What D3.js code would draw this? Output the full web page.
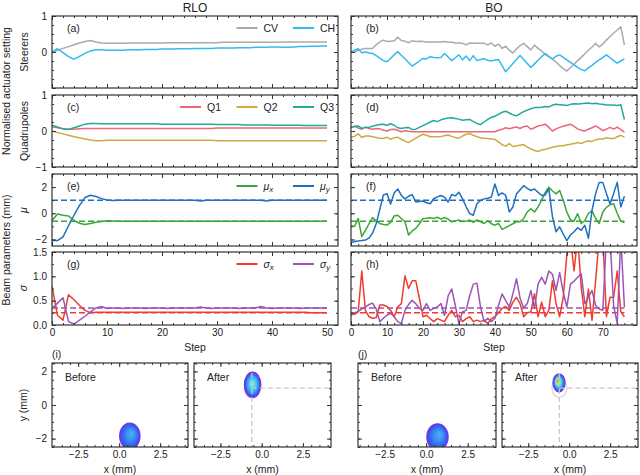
<!DOCTYPE html>
<html>
<head>
<meta charset="utf-8">
<script src="https://cdn.jsdelivr.net/npm/d3@7"></script>
<style>
body { margin: 0; background: #fff; }
svg { font-family: "Liberation Sans", Arial, sans-serif; }
.axis path { display: none; }
.axis line { stroke: #333; }
.axis text { font-size: 10px; fill: #222; font-family: "Liberation Sans", Arial, sans-serif; }
</style>
</head>
<body>
<div class="canvas"></div>
<script>
// ---- RLO data (steps 0..50)
const rloCV = [0.00,0.05,0.10,0.15,0.20,0.25,0.29,0.32,0.28,0.25,
  0.24,0.24,0.24,0.24,0.25,0.25,0.25,0.25,0.25,0.25,
  0.25,0.26,0.26,0.26,0.26,0.26,0.26,0.26,0.26,0.26,
  0.26,0.27,0.27,0.27,0.27,0.27,0.27,0.27,0.27,0.27,
  0.27,0.27,0.28,0.28,0.28,0.28,0.28,0.28,0.28,0.28,0.28]
const rloCH = [0.00,0.09,-0.02,-0.13,-0.20,-0.12,-0.04,0.03,0.06,0.06,
  0.05,0.05,0.05,0.05,0.06,0.06,0.06,0.07,0.07,0.07,
  0.08,0.08,0.08,0.09,0.09,0.09,0.10,0.10,0.10,0.10,
  0.11,0.11,0.11,0.11,0.12,0.12,0.12,0.13,0.13,0.13,
  0.14,0.14,0.13,0.13,0.14,0.15,0.15,0.16,0.16,0.17,0.17]
const rloQ1 = [0.12,0.09,0.06,0.05,0.05,0.06,0.07,0.07,0.07,0.07,
  0.07,0.07,0.07,0.07,0.07,0.07,0.07,0.07,0.07,0.07,
  0.07,0.07,0.07,0.07,0.07,0.07,0.07,0.07,0.07,0.07,
  0.08,0.08,0.08,0.08,0.08,0.08,0.08,0.08,0.08,0.08,
  0.08,0.08,0.08,0.08,0.08,0.08,0.08,0.08,0.08,0.08,0.08]
const rloQ2 = [0.00,-0.04,-0.08,-0.12,-0.16,-0.19,-0.22,-0.25,-0.27,-0.27,
  -0.26,-0.26,-0.26,-0.26,-0.26,-0.26,-0.26,-0.26,-0.26,-0.26,
  -0.26,-0.26,-0.26,-0.26,-0.26,-0.26,-0.26,-0.26,-0.26,-0.26,
  -0.27,-0.27,-0.27,-0.27,-0.27,-0.27,-0.27,-0.27,-0.27,-0.27,
  -0.27,-0.27,-0.27,-0.27,-0.27,-0.27,-0.27,-0.27,-0.27,-0.27,-0.27]
const rloQ3 = [0.16,0.11,0.06,0.04,0.09,0.14,0.19,0.21,0.21,0.20,
  0.20,0.20,0.20,0.20,0.20,0.20,0.20,0.20,0.20,0.20,
  0.19,0.19,0.19,0.19,0.19,0.19,0.19,0.19,0.19,0.19,
  0.18,0.18,0.18,0.18,0.18,0.17,0.17,0.17,0.17,0.17,
  0.16,0.16,0.16,0.16,0.16,0.16,0.15,0.15,0.15,0.15,0.15]
const rloMuX = [-0.55,-0.05,-0.15,-0.20,-0.55,-0.76,-0.86,-0.78,-0.68,-0.62,
  -0.58,-0.59,-0.60,-0.60,-0.60,-0.61,-0.60,-0.60,-0.60,-0.60,
  -0.60,-0.60,-0.61,-0.60,-0.60,-0.60,-0.60,-0.61,-0.60,-0.60,
  -0.60,-0.60,-0.60,-0.60,-0.61,-0.60,-0.60,-0.60,-0.60,-0.60,
  -0.60,-0.60,-0.61,-0.60,-0.60,-0.60,-0.60,-0.60,-0.61,-0.61,-0.61]
const rloMuY = [-2.08,-2.08,-1.80,-0.95,-0.15,0.60,1.20,1.38,1.28,1.12,
  1.02,0.98,1.00,1.00,1.00,1.00,1.00,1.00,1.00,1.00,
  1.00,1.00,1.00,1.00,1.00,1.00,1.00,0.93,1.00,1.00,
  1.00,1.00,1.00,1.00,1.00,1.00,1.00,1.00,1.00,0.93,
  1.00,1.00,1.00,1.00,1.00,1.00,1.00,1.00,1.00,1.00,1.00]
const rloSigX = [0.80,0.20,0.10,0.62,0.52,0.40,0.30,0.25,0.26,0.26,
  0.26,0.26,0.26,0.26,0.26,0.26,0.26,0.26,0.26,0.26,
  0.26,0.26,0.26,0.26,0.26,0.26,0.26,0.26,0.26,0.26,
  0.26,0.26,0.26,0.26,0.26,0.26,0.26,0.26,0.26,0.26,
  0.26,0.26,0.26,0.26,0.26,0.26,0.26,0.25,0.25,0.25,0.25]
const rloSigY = [0.34,0.45,0.56,0.07,0.02,0.10,0.18,0.27,0.35,0.38,
  0.34,0.35,0.35,0.34,0.35,0.35,0.35,0.34,0.35,0.35,
  0.35,0.34,0.35,0.35,0.35,0.35,0.35,0.37,0.35,0.34,
  0.35,0.35,0.35,0.35,0.34,0.35,0.35,0.35,0.38,0.35,
  0.34,0.35,0.35,0.35,0.35,0.34,0.35,0.35,0.35,0.35,0.35]

// ---- BO data (steps 0..76)
const boCV = [0.00,0.00,0.04,0.08,0.10,0.10,0.10,0.20,0.28,0.33,
  0.29,0.30,0.31,0.41,0.32,0.30,0.26,0.31,0.29,0.30,
  0.29,0.28,0.28,0.28,0.28,0.28,0.29,0.27,0.27,0.25,
  0.25,0.24,0.20,0.25,0.24,0.24,0.24,0.24,0.20,0.25,
  0.16,0.22,0.10,0.16,0.05,-0.03,0.08,0.18,0.24,0.15,
  0.06,0.19,0.10,0.03,-0.07,-0.13,-0.20,-0.28,-0.38,-0.46,
  -0.53,-0.43,-0.34,-0.24,-0.15,-0.05,0.05,0.14,0.24,0.14,
  0.22,0.33,0.43,0.52,0.61,0.70,0.20]
const boCH = [0.00,0.05,0.09,-0.02,0.00,-0.03,-0.04,-0.10,-0.17,-0.24,
  -0.27,-0.18,-0.08,0.01,-0.09,-0.19,-0.29,-0.39,-0.32,-0.25,
  -0.18,-0.19,-0.13,-0.15,-0.16,-0.15,-0.04,-0.14,-0.24,-0.16,
  -0.08,-0.22,-0.11,-0.24,-0.10,-0.24,-0.21,-0.19,-0.23,-0.25,
  -0.22,-0.21,-0.38,-0.55,-0.44,-0.32,-0.21,-0.10,-0.21,-0.32,
  -0.43,-0.33,-0.23,-0.13,-0.04,-0.13,-0.19,-0.12,-0.08,-0.15,
  -0.22,-0.29,-0.36,-0.43,-0.49,-0.52,-0.44,-0.37,-0.29,-0.22,
  -0.15,-0.08,-0.16,-0.24,-0.31,-0.25,-0.19]
const boQ1 = [0.09,0.14,0.08,0.05,0.11,0.07,0.05,0.07,0.06,0.02,
  0.00,0.04,0.05,0.02,-0.02,0.01,-0.01,-0.02,-0.02,-0.02,
  -0.02,-0.02,-0.02,-0.02,-0.02,-0.02,-0.02,-0.02,-0.02,-0.02,
  -0.02,-0.02,-0.02,-0.02,-0.02,-0.02,-0.02,-0.02,-0.02,-0.02,
  -0.02,0.02,0.05,0.09,0.06,0.09,0.11,0.07,0.12,0.14,
  0.05,0.09,0.14,0.16,0.19,0.10,0.00,0.06,0.10,0.13,
  0.16,0.19,0.13,0.06,0.02,0.00,0.05,0.09,0.14,0.08,
  0.01,0.05,0.10,0.05,0.11,0.04,-0.03]
const boQ2 = [-0.17,-0.15,-0.08,-0.18,-0.14,-0.14,-0.16,-0.18,-0.20,-0.21,
  -0.17,-0.23,-0.19,-0.17,-0.23,-0.28,-0.32,-0.26,-0.20,-0.14,
  -0.09,-0.12,-0.16,-0.16,-0.16,-0.15,-0.13,-0.11,-0.15,-0.18,
  -0.20,-0.14,-0.09,-0.07,-0.12,-0.16,-0.19,-0.20,-0.21,-0.22,
  -0.23,-0.30,-0.38,-0.42,-0.35,-0.43,-0.42,-0.39,-0.38,-0.45,
  -0.50,-0.54,-0.57,-0.53,-0.51,-0.48,-0.45,-0.43,-0.41,-0.41,
  -0.38,-0.37,-0.35,-0.32,-0.35,-0.30,-0.28,-0.29,-0.24,-0.22,
  -0.22,-0.19,-0.21,-0.21,-0.16,-0.12,-0.17]
const boQ3 = [0.12,0.12,0.14,0.07,0.10,0.10,0.13,0.16,0.18,0.19,
  0.16,0.20,0.16,0.09,0.07,0.09,0.10,0.04,0.05,0.10,
  0.15,0.20,0.25,0.29,0.26,0.31,0.34,0.36,0.37,0.35,
  0.33,0.30,0.31,0.32,0.26,0.21,0.18,0.25,0.32,0.38,
  0.41,0.46,0.52,0.55,0.50,0.45,0.42,0.48,0.54,0.58,
  0.62,0.65,0.65,0.66,0.68,0.67,0.72,0.74,0.73,0.72,
  0.71,0.74,0.76,0.75,0.76,0.77,0.78,0.76,0.77,0.75,
  0.74,0.72,0.72,0.72,0.71,0.73,0.32]
const boMuX = [-0.98,-1.00,-0.40,-1.79,-1.30,-0.80,-0.33,-0.60,-0.78,-0.85,
  -0.90,-0.70,-0.20,-0.15,-0.40,-0.65,-1.66,-1.35,-1.16,-0.80,
  -0.40,-0.38,-0.35,-0.40,-0.30,-0.45,-0.32,-0.45,-0.65,-0.58,
  -0.52,-0.62,-0.60,-0.52,-0.70,-0.50,-0.65,-0.78,-0.58,-0.80,
  -0.91,-0.78,-1.23,-1.10,-0.95,-0.80,-0.65,-0.65,-0.40,0.10,
  0.35,0.10,0.48,1.00,1.60,1.99,1.70,1.48,1.74,1.00,
  0.10,-0.50,-0.60,-0.03,-0.78,-0.55,0.00,0.18,-0.40,-0.78,
  0.10,0.45,0.65,0.73,0.00,-0.60,-0.70]
const boMuY = [-2.24,-2.15,-2.11,-2.08,-2.05,-1.90,-1.50,-0.80,0.30,1.40,
  1.50,0.70,1.55,1.86,1.36,1.10,1.30,1.43,0.86,0.90,
  0.93,0.80,0.73,1.11,1.25,1.36,1.23,0.86,1.43,1.33,
  1.61,1.10,0.50,-0.03,-0.15,0.73,0.98,1.10,1.15,1.23,
  2.24,1.36,1.55,1.36,0.10,0.48,1.48,1.80,2.11,1.90,
  1.74,1.86,1.60,1.36,1.40,1.86,-0.28,-1.41,-1.03,-1.60,
  -2.09,-1.66,-1.41,-1.10,-1.30,-0.91,-1.91,0.23,1.50,2.36,
  2.36,1.50,0.73,1.50,2.36,0.48,1.31]
const boSigX = [0.25,0.22,0.27,1.11,0.30,0.17,0.14,0.15,0.41,0.41,
  0.38,0.30,0.17,0.37,0.44,1.01,0.75,0.91,0.91,0.55,
  0.17,0.20,0.13,0.07,0.13,0.10,0.07,0.20,0.30,0.17,
  0.20,0.07,0.13,0.17,0.07,0.10,0.07,0.10,0.03,0.13,
  0.17,0.25,0.34,0.38,0.30,0.47,0.57,0.44,0.17,0.25,
  0.27,0.64,0.17,0.47,0.17,0.30,0.91,0.44,0.17,0.57,
  1.45,1.80,1.11,1.80,0.78,0.17,0.74,0.10,0.91,1.80,
  1.80,0.17,0.57,0.57,1.11,0.27,0.17]
const boSigY = [0.20,0.25,0.28,0.33,0.37,0.42,0.45,0.33,0.07,0.14,
  0.20,0.24,0.17,0.07,0.03,0.30,0.42,0.51,0.44,0.34,
  0.30,0.44,0.30,0.34,0.37,0.44,0.20,0.60,0.74,0.40,
  0.03,0.27,0.30,0.60,0.84,0.86,0.37,0.07,0.14,0.07,
  0.14,0.40,0.64,0.50,0.37,0.64,0.95,0.55,0.35,0.44,
  0.71,0.34,0.84,0.98,0.84,1.11,1.04,0.71,1.08,0.67,
  0.37,0.84,0.90,0.98,1.05,0.44,0.57,0.71,0.40,0.33,
  0.30,1.80,1.80,0.40,0.03,1.80,0.37]

// targets (mm)
const targetMu = [-0.6, 1.0]
const targetSigma = [0.25, 0.35]
const targetRing = [0.45, 0.55]

// beam spots on screen: before/after for RLO and BO
const spotCentre = [[0.65, -1.85], [-0.55, 1.2], [0.68, -1.9], [-0.62, 1.32]]
const spotRadius = [[0.62, 0.78], [0.5, 0.76], [0.64, 0.78], [0.37, 0.54]]
const beforeStops = [[0, '#4ab2f2'], [0.4, '#3f92f2'], [0.75, '#3068f0'], [0.92, '#3a50ec'], [1, '#6a30e6']]
const afterRloStops = [[0, '#9ae8c0'], [0.3, '#5ad8ea'], [0.6, '#3aa8f2'], [0.85, '#2e62f0'], [1, '#6a30e6']]
const afterBoStops = [[0, '#f02818'], [0.14, '#f6c030'], [0.3, '#90f080'], [0.5, '#48d8e8'], [0.8, '#3070f0'], [1, '#6a30e6']]

const colours = {
  CV: '#aaaaaa', CH: '#33bbee',
  Q1: '#ee6677', Q2: '#ccaa44', Q3: '#22aa99',
  muX: '#3aa637', muY: '#1f6fc0',
  sigX: '#f03c2e', sigY: '#9b55b5'
}

const svg = d3.select('.canvas')
  .append('svg')
  .attr('width', 640)
  .attr('height', 475)

const defs = svg.append('defs')

const columns = [
  { name: 'RLO', range: [52, 338], domain: [0, 52], ticks: [0, 10, 20, 30, 40, 50],
    minor: d3.range(0, 52, 2), labels: ['(a)', '(c)', '(e)', '(g)'], legend: true,
    data: { CV: rloCV, CH: rloCH, Q1: rloQ1, Q2: rloQ2, Q3: rloQ3, muX: rloMuX, muY: rloMuY, sigX: rloSigX, sigY: rloSigY } },
  { name: 'BO', range: [351, 637], domain: [0, 79.5], ticks: [0, 10, 20, 30, 40, 50, 60, 70],
    minor: d3.range(0, 79, 2), labels: ['(b)', '(d)', '(f)', '(h)'], legend: false,
    data: { CV: boCV, CH: boCH, Q1: boQ1, Q2: boQ2, Q3: boQ3, muX: boMuX, muY: boMuY, sigX: boSigX, sigY: boSigY } }
]

const rows = [
  { top: 16, bottom: 88, domain: [-1, 1], major: [-1, 0, 1], labelled: [0, 1], minor: d3.range(-1, 1.01, 0.25),
    fmt: d3.format('d'), keys: ['CV', 'CH'], names: [['CV'], ['CH']] },
  { top: 95, bottom: 167, domain: [-1, 1], major: [-1, 0, 1], labelled: [-1, 0, 1], minor: d3.range(-1, 1.01, 0.25),
    fmt: d3.format('d'), keys: ['Q1', 'Q2', 'Q3'], names: [['Q1'], ['Q2'], ['Q3']] },
  { top: 174, bottom: 246, domain: [-2.5, 3], major: [-2, 0, 2], labelled: [-2, 0, 2], minor: d3.range(-2, 3.01, 1),
    fmt: d3.format('d'), keys: ['muX', 'muY'], names: [['μ', 'x'], ['μ', 'y']], targets: targetMu },
  { top: 252, bottom: 325, domain: [0, 1.5], major: [0, 0.5, 1, 1.5], labelled: [0, 0.5, 1, 1.5], minor: d3.range(0, 1.51, 0.25),
    fmt: d3.format('.1f'), keys: ['sigX', 'sigY'], names: [['σ', 'x'], ['σ', 'y']], targets: targetSigma }
]

// inward ticks on all four sides of a box
const drawAxes = (g, x, y, o) => {
  const [x0, x1] = x.range()
  const [y1, y0] = y.range()
  g.append('g').attr('class', 'axis').attr('transform', `translate(0,${y1})`)
    .call(d3.axisBottom(x).tickValues(o.xMajor).tickSize(-4).tickPadding(4)
      .tickFormat(o.xLabels ? o.xFmt : ''))
  g.append('g').attr('class', 'axis').attr('transform', `translate(0,${y1})`)
    .call(d3.axisBottom(x).tickValues(o.xMinor).tickSize(-2).tickFormat(''))
  g.append('g').attr('class', 'axis').attr('transform', `translate(0,${y0})`)
    .call(d3.axisTop(x).tickValues(o.xMajor).tickSize(-4).tickFormat(''))
  g.append('g').attr('class', 'axis').attr('transform', `translate(0,${y0})`)
    .call(d3.axisTop(x).tickValues(o.xMinor).tickSize(-2).tickFormat(''))
  const yLab = o.yLabelled || o.yMajor
  g.append('g').attr('class', 'axis').attr('transform', `translate(${x0},0)`)
    .call(d3.axisLeft(y).tickValues(o.yMajor).tickSize(-4).tickPadding(5)
      .tickFormat(d => (o.yLabels && yLab.includes(d)) ? o.yFmt(d) : ''))
  g.append('g').attr('class', 'axis').attr('transform', `translate(${x0},0)`)
    .call(d3.axisLeft(y).tickValues(o.yMinor).tickSize(-2).tickFormat(''))
  g.append('g').attr('class', 'axis').attr('transform', `translate(${x1},0)`)
    .call(d3.axisRight(y).tickValues(o.yMajor).tickSize(-4).tickFormat(''))
  g.append('g').attr('class', 'axis').attr('transform', `translate(${x1},0)`)
    .call(d3.axisRight(y).tickValues(o.yMinor).tickSize(-2).tickFormat(''))
  g.append('rect')
    .attr('x', x0).attr('y', y0)
    .attr('width', x1 - x0).attr('height', y1 - y0)
    .attr('fill', 'none').attr('stroke', '#333').attr('stroke-width', 1.2)
}

const addName = (text, parts) => {
  if (parts.length === 1) { text.text(parts[0]); return }
  text.append('tspan').attr('font-style', 'italic').text(parts[0])
  text.append('tspan').attr('font-style', 'italic').attr('font-size', 8).attr('dy', 2.5).text(parts[1])
}

columns.forEach((col, ci) => {
  const x = d3.scaleLinear().domain(col.domain).range(col.range)

  rows.forEach((row, ri) => {
    const y = d3.scaleLinear().domain(row.domain).range([row.bottom, row.top])
    const g = svg.append('g')
    const clipId = `clip-${ci}-${ri}`
    defs.append('clipPath').attr('id', clipId).append('rect')
      .attr('x', col.range[0]).attr('y', row.top)
      .attr('width', col.range[1] - col.range[0]).attr('height', row.bottom - row.top)
    const plot = g.append('g').attr('clip-path', `url(#${clipId})`)
    const last = col.data[row.keys[0]].length - 1

    if (row.targets) {
      row.keys.forEach((k, i) => {
        plot.append('line')
          .attr('x1', x(0)).attr('x2', x(last))
          .attr('y1', y(row.targets[i])).attr('y2', y(row.targets[i]))
          .attr('stroke', colours[k]).attr('stroke-width', 1.5)
          .attr('stroke-dasharray', '6,3')
      })
    }

    const line = d3.line().x((d, i) => x(i)).y(d => y(d))
    row.keys.forEach(k => {
      plot.append('path')
        .attr('d', line(col.data[k]))
        .attr('fill', 'none')
        .attr('stroke', colours[k])
        .attr('stroke-width', 1.5)
        .attr('stroke-linejoin', 'round')
    })

    drawAxes(g, x, y, {
      xMajor: col.ticks, xMinor: col.minor, xLabels: ri === rows.length - 1, xFmt: d3.format('d'),
      yMajor: row.major, yMinor: row.minor, yLabels: ci === 0, yFmt: row.fmt, yLabelled: row.labelled
    })

    g.append('text')
      .attr('x', col.range[0] + 15).attr('y', row.top + 15.5)
      .attr('font-size', 10.5).attr('fill', '#222')
      .text(col.labels[ri])

    if (col.legend) {
      const n = row.keys.length
      row.keys.forEach((k, i) => {
        const lx = 293 - (n - 1 - i) * 56.5
        const ly = row.top + 12
        g.append('line')
          .attr('x1', lx).attr('x2', lx + 21)
          .attr('y1', ly).attr('y2', ly)
          .attr('stroke', colours[k]).attr('stroke-width', 2)
        const t = g.append('text')
          .attr('x', lx + 27).attr('y', ly + 3.5)
          .attr('font-size', 10.5).attr('fill', '#222')
        addName(t, row.names[i])
      })
    }
  })

  svg.append('text')
    .attr('x', (col.range[0] + col.range[1]) / 2).attr('y', 16 - 4.5)
    .attr('text-anchor', 'middle').attr('font-size', 12).attr('fill', '#222')
    .text(col.name)

  svg.append('text')
    .attr('x', (col.range[0] + col.range[1]) / 2).attr('y', 351)
    .attr('text-anchor', 'middle').attr('font-size', 10.5).attr('fill', '#222')
    .text('Step')
})

// y labels of the top block
const yLabel = (x, y, txt, italic) => svg.append('text')
  .attr('transform', `translate(${x},${y}) rotate(-90)`)
  .attr('text-anchor', 'middle').attr('font-size', 10.5).attr('fill', '#222')
  .attr('font-style', italic ? 'italic' : null)
  .text(txt)

yLabel(10, 91, 'Normalised actuator setting')
yLabel(28, 52, 'Steerers')
yLabel(28, 131, 'Quadrupoles')
yLabel(10, 250, 'Beam parameters (mm)')
yLabel(27, 210, 'μ', true)
yLabel(27, 288, 'σ', true)
yLabel(27, 405, 'y (mm)')

// ---- screen images
const imgPanels = [
  { range: [52, 188], tag: 'Before', label: '(i)', stops: beforeStops, focal: [0.6, 0.4], after: false },
  { range: [194, 331], tag: 'After', label: null, stops: afterRloStops, focal: [0.5, 0.45], after: true },
  { range: [358, 496], tag: 'Before', label: '(j)', stops: beforeStops, focal: [0.6, 0.4], after: false },
  { range: [502, 638], tag: 'After', label: null, stops: afterBoStops, focal: [0.4, 0.4], after: true }
]
const imgTop = 363
const imgBottom = 447

imgPanels.forEach((p, pi) => {
  const x = d3.scaleLinear().domain([-4.1, 4.2]).range(p.range)
  const y = d3.scaleLinear().domain([-2.5, 2.5]).range([imgBottom, imgTop])
  const g = svg.append('g')
  const clipId = `clip-img-${pi}`
  defs.append('clipPath').attr('id', clipId).append('rect')
    .attr('x', p.range[0]).attr('y', imgTop)
    .attr('width', p.range[1] - p.range[0]).attr('height', imgBottom - imgTop)
  const plot = g.append('g').attr('clip-path', `url(#${clipId})`)

  const gradId = `spot-${pi}`
  const grad = defs.append('radialGradient').attr('id', gradId)
    .attr('cx', 0.5).attr('cy', 0.5).attr('r', 0.5)
    .attr('fx', p.focal[0]).attr('fy', p.focal[1])
  grad.selectAll('stop').data(p.stops).enter().append('stop')
    .attr('offset', d => d[0]).attr('stop-color', d => d[1])

  if (p.after) {
    plot.append('ellipse')
      .attr('cx', x(targetMu[0])).attr('cy', y(targetMu[1]))
      .attr('rx', x(targetRing[0]) - x(0)).attr('ry', y(0) - y(targetRing[1]))
      .attr('fill', 'none').attr('stroke', '#dcdcdc').attr('stroke-width', 1.5)
  }

  const c = spotCentre[pi]
  const r = spotRadius[pi]
  plot.append('ellipse')
    .attr('cx', x(c[0])).attr('cy', y(c[1]))
    .attr('rx', x(r[0]) - x(0)).attr('ry', y(0) - y(r[1]))
    .attr('fill', `url(#${gradId})`)
    .attr('stroke', '#7a32e8').attr('stroke-width', 1.2)

  if (p.after) {
    plot.append('line')
      .attr('x1', x(targetMu[0])).attr('x2', x(4.2))
      .attr('y1', y(targetMu[1])).attr('y2', y(targetMu[1]))
      .attr('stroke', '#c8c8c8').attr('stroke-width', 1.3).attr('stroke-dasharray', '5,3')
    plot.append('line')
      .attr('x1', x(targetMu[0])).attr('x2', x(targetMu[0]))
      .attr('y1', y(targetMu[1] + 0.9)).attr('y2', y(-2.5))
      .attr('stroke', '#c8c8c8').attr('stroke-width', 1.3).attr('stroke-dasharray', '5,3')
  }

  drawAxes(g, x, y, {
    xMajor: [-2.5, 0, 2.5], xMinor: d3.range(-4, 4.01, 0.5), xLabels: true, xFmt: d3.format('.1f'),
    yMajor: [-2, 0, 2], yMinor: d3.range(-2.5, 2.51, 0.5), yLabels: pi === 0, yFmt: d3.format('d')
  })

  g.append('text')
    .attr('x', p.range[0] + 13).attr('y', imgTop + 18)
    .attr('font-size', 10.5).attr('fill', '#222')
    .text(p.tag)

  g.append('text')
    .attr('x', (p.range[0] + p.range[1]) / 2).attr('y', 473)
    .attr('text-anchor', 'middle').attr('font-size', 10.5).attr('fill', '#222')
    .text('x (mm)')

  if (p.label) {
    g.append('text')
      .attr('x', p.range[0]).attr('y', 358)
      .attr('font-size', 10.5).attr('fill', '#222')
      .text(p.label)
  }
})
</script>
</body>
</html>
